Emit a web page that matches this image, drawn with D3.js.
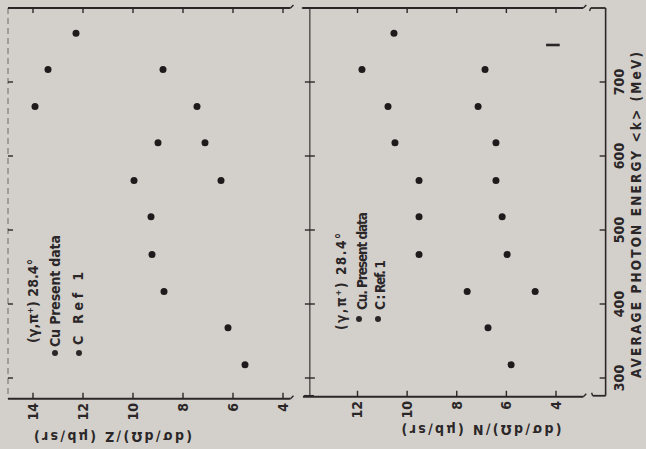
<!DOCTYPE html>
<html><head><meta charset="utf-8">
<script src="https://cdn.jsdelivr.net/npm/d3@7"></script>
<style>body{margin:0;background:#d3d0cb}svg{display:block}</style>
</head><body><svg id="c" width="646" height="449"></svg>
<script>
// Data
const energies = [318, 368, 417, 467, 518, 567, 618, 667, 717, 766];
const zCu = [5.52, 6.2, 8.76, 9.24, 9.28, 9.96, 9.0, 13.92, 13.4, 12.28];
const zC  = [null, null, null, null, null, 6.48, 7.12, 7.44, 8.8, null];
const nCu = [5.81, 6.74, 7.58, 9.52, 9.52, 9.52, 10.49, 10.77, 11.82, 10.53];
const nC  = [null, null, 4.84, 5.97, 6.17, 6.42, 6.42, 7.14, 6.86, null];
const energyTicks = [300, 400, 500, 600, 700];
const zTicks = [14, 12, 10, 8, 6, 4];
const nTicks = [12, 10, 8, 6, 4];
const energyTitle = "AVERAGE  PHOTON  ENERGY  <k>  (MeV)";
const zTitle = "(dσ/dΩ)/Z  (μb/sr)";
const nTitle = "(dσ/dΩ)/N  (μb/sr)";

const ink = "#2b2728";
const font = "'DejaVu Sans Condensed','DejaVu Sans',sans-serif";
const svg = d3.select("#c");

// Scales (figure is rotated 90° CCW: energy runs up, cross section runs right-to-left)
const y = d3.scaleLinear().domain([300, 700]).range([378, 82]);
const xZ = d3.scaleLinear().domain([14, 4]).range([33, 283]);
const xN = d3.scaleLinear().domain([12, 4]).range([357.5, 556]);

const yTop = y(800), yBot = y(276);
const leftX = xZ(15), leftEnd = xZ(3.7);
const midX = xN(13.92);
const rStart = xN(14.2), rEnd = xN(2.9), rightX = xN(2.0);

const g = svg.append("g").attr("stroke", ink).attr("fill", "none");
function line(x1, y1, x2, y2, w, dash, op) {
  g.append("line").attr("x1", x1).attr("y1", y1).attr("x2", x2).attr("y2", y2)
    .attr("stroke-width", w || 1.6).attr("stroke-dasharray", dash || null)
    .attr("opacity", op || 1);
}

// Left panel frame
line(leftX, yTop, leftEnd, yTop, 1.8);
line(leftX, yBot + 3, leftEnd, yBot + 3, 1.8);
line(leftX, yTop, leftX, yBot + 3, 1.2, "6,4", 0.5);
line(leftEnd, yTop, leftEnd + 3, yTop - 3, 1.4);
line(leftEnd, yBot + 3, leftEnd + 3, yBot, 1.4);
zTicks.forEach(v => {
  line(xZ(v), yTop, xZ(v), yTop + 5, 1.4);
  line(xZ(v), yBot + 3, xZ(v), yBot - 3, 1.4);
});
// Middle shared axis
line(midX, yTop, midX, yBot, 1.1);
line(midX - 8, yTop, midX, yTop, 1.6);
line(midX - 6, yBot, midX + 4, yBot, 1.6);
// Right panel frame
line(rStart, yTop, rEnd, yTop, 1.8);
line(rStart, yBot + 1, rEnd, yBot + 1, 1.8);
line(rEnd, yTop, rEnd + 3, yTop - 3, 1.4);
line(rEnd, yBot + 1, rEnd + 3, yBot - 2, 1.4);
line(rightX - 15, yTop, rightX, yTop, 1.8);
line(rightX - 15, yTop, rightX - 16, yTop + 3, 1.4);
line(rightX - 13, yBot, rightX, yBot, 1.8);
line(rightX - 13, yBot, rightX - 14, yBot - 3, 1.4);
line(rightX, yTop, rightX, yBot, 1.6);
nTicks.forEach(v => {
  line(xN(v), yTop, xN(v), yTop + 5, 1.4);
  line(xN(v), yBot + 1, xN(v), yBot - 5, 1.4);
});
// Energy ticks
energyTicks.forEach(e => {
  line(leftX, y(e), leftX + 5, y(e), 1.4);
  line(midX - 5, y(e), midX + 5, y(e), 1.4);
  line(rightX, y(e), rightX - 6, y(e), 1.4);
});
// stray mark
line(xN(4.4), y(750), xN(3.85), y(750), 2.6);

const t = svg.append("g").attr("fill", ink).attr("font-family", font).attr("font-weight", "bold");
function vtext(str, x, yy, size, anchor, len) {
  const el = t.append("text").attr("transform", `translate(${x},${yy}) rotate(-90)`)
    .attr("text-anchor", anchor).attr("dy", "0.35em").attr("font-size", size).text(str);
  if (len) el.attr("textLength", len).attr("lengthAdjust", "spacing");
  return el;
}
// Energy tick labels & title
energyTicks.forEach(e => vtext(String(e), 619, y(e), 14, "middle"));
vtext(energyTitle, 636, y(300), 13.5, "start", 326);
// Cross-section tick labels
zTicks.forEach(v => vtext(String(v), xZ(v), 403, 14, "end"));
nTicks.forEach(v => vtext(String(v), xN(v), 401, 14, "end"));
// Cross-section titles (rotated 180°)
t.append("text").attr("transform", `translate(${xZ(10.8)},437) rotate(180)`)
  .attr("text-anchor", "middle").attr("dy", "0.35em").attr("font-size", 14)
  .attr("textLength", 158).attr("lengthAdjust", "spacing").text(zTitle);
t.append("text").attr("transform", `translate(${xN(7.0)},430) rotate(180)`)
  .attr("text-anchor", "middle").attr("dy", "0.35em").attr("font-size", 14)
  .attr("textLength", 160).attr("lengthAdjust", "spacing").text(nTitle);

// Legends
vtext("(γ,π⁺)  28.4°", 33, 343, 14, "start", 84);
vtext("Cu Present data", 55, 347, 14, "start", 112);
vtext("C   Ref  1", 78, 345, 14, "start", 73);
t.append("circle").attr("cx", 55).attr("cy", 353).attr("r", 3);
t.append("circle").attr("cx", 79).attr("cy", 353).attr("r", 3);
vtext("(γ,π⁺)   28.4°", 341, 330, 13.5, "start", 97);
vtext("Cu. Present data", 362, 310, 13.5, "start", 98);
vtext("C : Ref. 1", 380, 310, 13.5, "start", 50);
t.append("circle").attr("cx", 359).attr("cy", 319).attr("r", 3);
t.append("circle").attr("cx", 378).attr("cy", 319).attr("r", 3);

// Data points
function plot(vals, xs) {
  svg.append("g").selectAll("circle")
    .data(energies.map((e, i) => ({e, v: vals[i]})).filter(d => d.v != null))
    .join("circle").attr("cx", d => xs(d.v)).attr("cy", d => y(d.e))
    .attr("r", 3.5).attr("fill", "#1f1b1c");
}
plot(zCu, xZ); plot(zC, xZ); plot(nCu, xN); plot(nC, xN);
</script></body></html>
